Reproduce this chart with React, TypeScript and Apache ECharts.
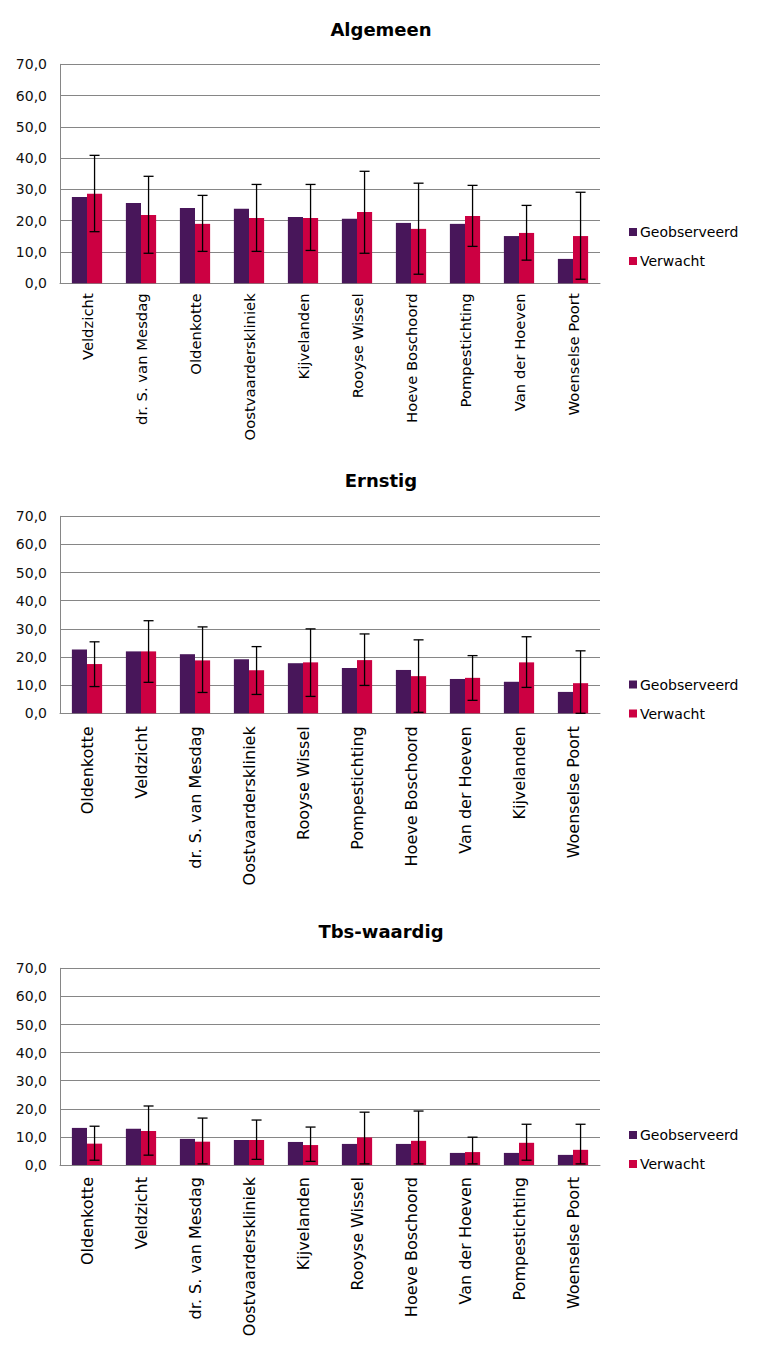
import React, { useEffect, useRef } from "react";
import * as echarts from "echarts";

const seriesNames = ["Geobserveerd", "Verwacht"];
const titles = ["Algemeen", "Ernstig", "Tbs-waardig"];

const cats1 = ["Veldzicht", "dr. S. van Mesdag", "Oldenkotte", "Oostvaarderskliniek", "Kijvelanden", "Rooyse Wissel", "Hoeve Boschoord", "Pompestichting", "Van der Hoeven", "Woenselse Poort"];
const geo1 = [27.6, 25.7, 24.1, 23.8, 21.2, 20.6, 19.3, 19.0, 15.1, 7.8];
const verw1 = [28.6, 21.8, 19.0, 20.9, 20.9, 22.8, 17.4, 21.5, 16.1, 15.1];
const low1 = [16.5, 9.6, 10.2, 10.2, 10.5, 9.6, 2.9, 11.8, 7.4, 1.3];
const high1 = [40.9, 34.2, 28.1, 31.6, 31.6, 35.8, 32.0, 31.3, 24.9, 29.1];

const cats2 = ["Oldenkotte", "Veldzicht", "dr. S. van Mesdag", "Oostvaarderskliniek", "Rooyse Wissel", "Pompestichting", "Hoeve Boschoord", "Van der Hoeven", "Kijvelanden", "Woenselse Poort"];
const geo2 = [22.7, 22.0, 21.0, 19.2, 17.8, 16.1, 15.4, 12.2, 11.2, 7.6];
const verw2 = [17.5, 22.0, 18.8, 15.3, 18.1, 18.9, 13.2, 12.6, 18.1, 10.7];
const low2 = [9.5, 11.0, 7.4, 6.7, 6.0, 9.9, 0.35, 4.6, 9.2, 0.0];
const high2 = [25.4, 32.9, 30.7, 23.7, 30.0, 28.2, 26.1, 20.5, 27.2, 22.2];

const cats3 = ["Oldenkotte", "Veldzicht", "dr. S. van Mesdag", "Oostvaarderskliniek", "Kijvelanden", "Rooyse Wissel", "Hoeve Boschoord", "Van der Hoeven", "Pompestichting", "Woenselse Poort"];
const geo3 = [13.2, 12.9, 9.3, 8.9, 8.2, 7.5, 7.5, 4.3, 4.3, 3.6];
const verw3 = [7.6, 12.1, 8.3, 8.9, 7.1, 9.8, 8.6, 4.6, 7.9, 5.4];
const low3 = [1.7, 3.5, 0.4, 2.0, 1.3, 0.4, 0.4, 0.4, 1.7, 0.4];
const high3 = [13.8, 21.0, 16.7, 16.0, 13.5, 18.8, 19.2, 9.9, 14.5, 14.5];

const yMin = 0;
const yMax = 70;
const yInterval = 10;

const COLORS = ["#48165a", "#cc0042"];
const FONT = "DejaVu Sans";

const charts = [
  { cats: cats1, geo: geo1, verw: verw1, low: low1, high: high1 },
  { cats: cats2, geo: geo2, verw: verw2, low: low2, high: high2 },
  { cats: cats3, geo: geo3, verw: verw3, low: low3, high: high3 },
];

const layout = [
  { top: 64.3, height: 219, titleTop: 15, legendTop: 219, labelSize: 14.8, labelMargin: 10 },
  { top: 516.3, height: 197, titleTop: 466, legendTop: 671.5, labelSize: 16, labelMargin: 13 },
  { top: 968.3, height: 196.7, titleTop: 917, legendTop: 1122, labelSize: 16, labelMargin: 12 },
];

const GAP = 0.44;

export default function App() {
  const ref = useRef<HTMLDivElement>(null);
  useEffect(() => {
    if (!ref.current) return;
    const chart = echarts.init(ref.current, undefined, { renderer: "svg" });
    const grid: any[] = [];
    const xAxis: any[] = [];
    const yAxis: any[] = [];
    const title: any[] = [];
    const legend: any[] = [];
    const series: any[] = [];
    charts.forEach((c, i) => {
      const L = layout[i];
      grid.push({ left: 60, width: 540, top: L.top, height: L.height, containLabel: false });
      title.push({
        text: titles[i],
        left: "center",
        top: L.titleTop,
        textStyle: { fontFamily: FONT, fontSize: 18, fontWeight: "bold", color: "#000" },
      });
      legend.push({
        data: seriesNames,
        orient: "vertical",
        left: 624,
        top: L.legendTop,
        itemWidth: 8,
        itemHeight: 8,
        itemGap: 13,
        icon: "rect",
        textStyle: { fontFamily: FONT, fontSize: 14, color: "#000", lineHeight: 16, padding: [0, 0, 0, -2] },
        selectedMode: false,
      });
      xAxis.push({
        type: "category",
        gridIndex: i,
        data: c.cats,
        axisLine: { show: true, lineStyle: { color: "#868686", width: 1 } },
        axisTick: { show: false },
        axisLabel: {
          rotate: 90,
          interval: 0,
          margin: L.labelMargin,
          fontFamily: FONT,
          fontSize: L.labelSize,
          color: "#000",
        },
      });
      yAxis.push({
        type: "value",
        gridIndex: i,
        min: yMin,
        max: yMax,
        interval: yInterval,
        axisLine: { show: true, lineStyle: { color: "#868686", width: 1 } },
        axisTick: { show: false },
        splitLine: { show: true, lineStyle: { color: "#868686", width: 1 } },
        axisLabel: {
          margin: 13,
          fontFamily: FONT,
          fontSize: 14,
          color: "#111",
          formatter: (v: number) => v.toFixed(1).replace(".", ","),
        },
      });
      series.push({
        name: seriesNames[0],
        type: "bar",
        xAxisIndex: i,
        yAxisIndex: i,
        data: c.geo,
        barGap: "0%",
        barCategoryGap: GAP * 100 + "%",
        itemStyle: { color: COLORS[0] },
      });
      series.push({
        name: seriesNames[1],
        type: "bar",
        xAxisIndex: i,
        yAxisIndex: i,
        data: c.verw,
        barGap: "0%",
        barCategoryGap: GAP * 100 + "%",
        itemStyle: { color: COLORS[1] },
      });
      series.push({
        name: "err" + i,
        type: "custom",
        xAxisIndex: i,
        yAxisIndex: i,
        z: 10,
        data: c.cats.map((_, k) => [k, c.low[k], c.high[k]]),
        encode: { x: 0, y: [1, 2] },
        renderItem: (_params: any, api: any) => {
          const cat = api.value(0);
          const lo = api.coord([cat, api.value(1)]);
          const hi = api.coord([cat, api.value(2)]);
          const band = api.size([1, 0])[0];
          const x = lo[0] + (band * (1 - GAP)) / 4;
          const cap = 5;
          const style = { stroke: "#000", lineWidth: 1.3 };
          return {
            type: "group",
            children: [
              { type: "line", shape: { x1: x, y1: hi[1], x2: x, y2: lo[1] }, style },
              { type: "line", shape: { x1: x - cap, y1: hi[1], x2: x + cap, y2: hi[1] }, style },
              { type: "line", shape: { x1: x - cap, y1: lo[1], x2: x + cap, y2: lo[1] }, style },
            ],
          };
        },
      });
    });
    chart.setOption({
      animation: false,
      backgroundColor: "#fff",
      title,
      legend,
      grid,
      xAxis,
      yAxis,
      series,
    });
    return () => chart.dispose();
  }, []);
  return (
    <div
      ref={ref}
      style={{ position: "absolute", left: 0, top: 0, width: 762, height: 1355 }}
    />
  );
}
